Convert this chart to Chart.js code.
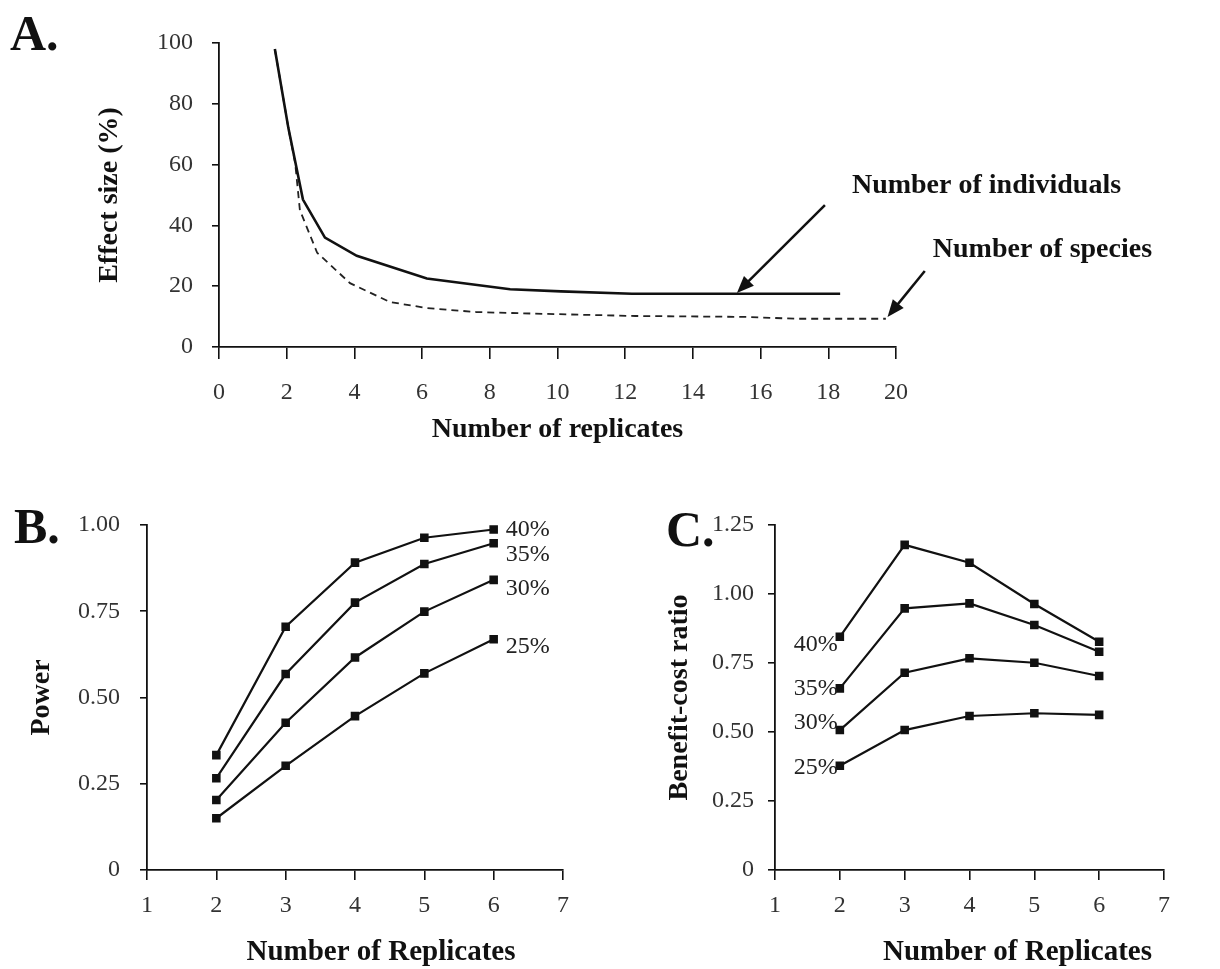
<!DOCTYPE html>
<html>
<head>
<meta charset="utf-8">
<script src="https://cdn.jsdelivr.net/npm/chart.js@4.4.0/dist/chart.umd.min.js"></script>
<style>
  body { margin: 0; background: #fff; }
  #wrap { position: relative; width: 1220px; height: 969px; background: #fff; overflow: hidden; }
  canvas { position: absolute; }
</style>
</head>
<body>
<div id="wrap">
  <canvas id="chartA" width="1220" height="460" style="left:0px;top:0px"></canvas>
  <canvas id="chartB" width="610" height="519" style="left:0px;top:450px"></canvas>
  <canvas id="chartC" width="610" height="519" style="left:610px;top:450px"></canvas>
</div>
<script>
// ---- panel A: effect size vs replicates
const indivX = [1.65, 2.05, 2.48, 3.13, 4.07, 6.14, 8.6, 10.1, 12.2, 18.35];
const indivY = [98, 72, 48.5, 36, 30, 22.5, 19, 18.3, 17.5, 17.5];
const speciesX = [1.65, 2.05, 2.25, 2.39, 2.9, 3.87, 5.05, 6.14, 7.6, 9.6, 12.3, 15.6, 17.0, 19.7];
const speciesY = [98, 72, 60.5, 45, 31, 21, 14.8, 12.8, 11.5, 10.9, 10.2, 9.9, 9.3, 9.3];
const annotLabels = ['Number of individuals', 'Number of species'];
// arrow ends in data units (tail -> head)
const arrowIndiv = [[17.9, 46.7], [15.3, 17.8]];
const arrowSpecies = [[20.85, 25], [19.75, 9.9]];

// ---- panels B and C
const replicates = [2, 3, 4, 5, 6];
const effectLabels = ['40%', '35%', '30%', '25%'];
const power40 = [0.333, 0.705, 0.891, 0.963, 0.987];
const power35 = [0.266, 0.568, 0.775, 0.887, 0.947];
const power30 = [0.203, 0.427, 0.616, 0.749, 0.841];
const power25 = [0.150, 0.302, 0.446, 0.570, 0.669];
const ratio40 = [0.845, 1.178, 1.113, 0.964, 0.827];
const ratio35 = [0.658, 0.948, 0.966, 0.888, 0.791];
const ratio30 = [0.507, 0.715, 0.767, 0.751, 0.703];
const ratio25 = [0.378, 0.507, 0.558, 0.568, 0.562];

const serif = "'Liberation Serif', 'Times New Roman', serif";
Chart.defaults.font.family = serif;
Chart.defaults.color = '#222';

function axis(min, max, step, tickLength, padding, size, titleText, fmt) {
    return {
        type: 'linear', min: min, max: max,
        ticks: { stepSize: step, padding: padding, color: '#333', font: { size: 24 }, callback: fmt || (v => v) },
        grid: { drawOnChartArea: false, drawTicks: true, tickLength: tickLength, color: '#111', lineWidth: 1.6 },
        border: { display: true, color: '#111', width: 1.8 },
        title: { display: !!titleText, text: titleText, color: '#111', padding: 0,
                 font: { size: 28, weight: 'bold', lineHeight: 1 } },
        afterFit: function (s) {
            if (s.isHorizontal()) s.height = size; else s.width = size;
        }
    };
}

function pts(xs, ys) {
    return xs.map((x, i) => ({ x: x, y: ys[i] }));
}

function drawArrow(ctx, x1, y1, x2, y2) {
    const a = Math.atan2(y2 - y1, x2 - x1);
    const head = 17, wing = 7;
    ctx.beginPath();
    ctx.moveTo(x1, y1);
    ctx.lineTo(x2 - head * 0.7 * Math.cos(a), y2 - head * 0.7 * Math.sin(a));
    ctx.stroke();
    ctx.beginPath();
    ctx.moveTo(x2, y2);
    ctx.lineTo(x2 - head * Math.cos(a) + wing * Math.sin(a), y2 - head * Math.sin(a) - wing * Math.cos(a));
    ctx.lineTo(x2 - head * Math.cos(a) - wing * Math.sin(a), y2 - head * Math.sin(a) + wing * Math.cos(a));
    ctx.closePath();
    ctx.fill();
}

function panelLetter(ctx, txt, x, y) {
    ctx.save();
    ctx.font = 'bold 50px ' + serif;
    ctx.fillStyle = '#111';
    ctx.textBaseline = 'alphabetic';
    ctx.textAlign = 'left';
    ctx.fillText(txt, x, y);
    ctx.restore();
}

function xTitle(chart, txt, shift) {
    const ctx = chart.ctx, area = chart.chartArea;
    ctx.save();
    ctx.font = 'bold 29px ' + serif;
    ctx.fillStyle = '#111';
    ctx.textAlign = 'center';
    ctx.textBaseline = 'middle';
    ctx.fillText(txt, (area.left + area.right) / 2 + shift, chart.height - 16);
    ctx.restore();
}

const annotateA = {
    id: 'annotateA',
    afterDraw(chart) {
        const ctx = chart.ctx, sx = chart.scales.x, sy = chart.scales.y;
        ctx.save();
        ctx.strokeStyle = '#111';
        ctx.fillStyle = '#111';
        ctx.lineWidth = 2.5;
        const a1 = arrowIndiv.map(p => [sx.getPixelForValue(p[0]), sy.getPixelForValue(p[1])]);
        const a2 = arrowSpecies.map(p => [sx.getPixelForValue(p[0]), sy.getPixelForValue(p[1])]);
        drawArrow(ctx, a1[0][0], a1[0][1], a1[1][0], a1[1][1]);
        drawArrow(ctx, a2[0][0], a2[0][1], a2[1][0], a2[1][1]);
        ctx.font = 'bold 28px ' + serif;
        ctx.textAlign = 'left';
        ctx.textBaseline = 'alphabetic';
        ctx.fillText(annotLabels[0], a1[0][0] + 27, a1[0][1] - 12);
        ctx.fillText(annotLabels[1], a2[0][0] + 8, a2[0][1] - 14);
        ctx.restore();
        panelLetter(ctx, 'A.', 10, 50);
    }
};

const labelsB = {
    id: 'labelsB',
    afterDraw(chart) {
        const ctx = chart.ctx;
        ctx.save();
        ctx.font = '24px ' + serif;
        ctx.fillStyle = '#222';
        ctx.textAlign = 'left';
        ctx.textBaseline = 'middle';
        chart.data.datasets.forEach((ds, i) => {
            const meta = chart.getDatasetMeta(i);
            const p = meta.data[meta.data.length - 1];
            ctx.fillText(effectLabels[i], p.x + 12, p.y + ds.labelDy);
        });
        ctx.restore();
        panelLetter(ctx, 'B.', 14, 93);
        xTitle(chart, 'Number of Replicates', 26);
    }
};

const labelsC = {
    id: 'labelsC',
    afterDraw(chart) {
        const ctx = chart.ctx;
        ctx.save();
        ctx.font = '24px ' + serif;
        ctx.fillStyle = '#222';
        ctx.textAlign = 'right';
        ctx.textBaseline = 'middle';
        chart.data.datasets.forEach((ds, i) => {
            const p = chart.getDatasetMeta(i).data[0];
            ctx.fillText(effectLabels[i], p.x - 2, p.y + ds.labelDy);
        });
        ctx.restore();
        panelLetter(ctx, 'C.', 56, 96);
        xTitle(chart, 'Number of Replicates', 48);
    }
};

function seriesStyle(values, dy) {
    return {
        data: pts(replicates, values),
        borderColor: '#111',
        backgroundColor: '#111',
        borderWidth: 2.2,
        pointStyle: 'rect',
        pointRadius: 4.5,
        pointBackgroundColor: '#111',
        pointBorderColor: '#111',
        tension: 0,
        labelDy: dy
    };
}

const common = {
    responsive: false,
    animation: false,
    devicePixelRatio: 1,
    plugins: { legend: { display: false }, tooltip: { enabled: false } }
};

new Chart(document.getElementById('chartA'), {
    type: 'line',
    data: {
        datasets: [{
            data: pts(indivX, indivY),
            borderColor: '#111', borderWidth: 2.6, pointRadius: 0, tension: 0
        }, {
            data: pts(speciesX, speciesY),
            borderColor: '#222', borderWidth: 1.8, borderDash: [7, 5], pointRadius: 0, tension: 0
        }]
    },
    options: Object.assign({}, common, {
        layout: { padding: { left: 96, top: 43, right: 324, bottom: 16 } },
        scales: {
            x: axis(0, 20, 2, 12, 19, 97, 'Number of replicates'),
            y: axis(0, 100, 20, 7, 19, 123, 'Effect size (%)')
        }
    }),
    plugins: [annotateA]
});

const fmt2 = v => (v === 0 ? '0' : v.toFixed(2));

new Chart(document.getElementById('chartB'), {
    type: 'line',
    data: {
        datasets: [
            seriesStyle(power40, 0),
            seriesStyle(power35, 11),
            seriesStyle(power30, 9),
            seriesStyle(power25, 8)
        ]
    },
    options: Object.assign({}, common, {
        layout: { padding: { left: 28, top: 75, right: 47, bottom: 2 } },
        scales: {
            x: axis(1, 7, 1, 10, 11, 97, ''),
            y: axis(0, 1, 0.25, 7, 20, 119, 'Power', fmt2)
        }
    }),
    plugins: [labelsB]
});

new Chart(document.getElementById('chartC'), {
    type: 'line',
    data: {
        datasets: [
            seriesStyle(ratio40, 8),
            seriesStyle(ratio35, 0),
            seriesStyle(ratio30, -7),
            seriesStyle(ratio25, 2)
        ]
    },
    options: Object.assign({}, common, {
        layout: { padding: { left: 56, top: 75, right: 56, bottom: 2 } },
        scales: {
            x: axis(1, 7, 1, 10, 11, 97, ''),
            y: axis(0, 1.25, 0.25, 7, 14, 109, 'Benefit-cost ratio', fmt2)
        }
    }),
    plugins: [labelsC]
});
</script>
</body>
</html>
